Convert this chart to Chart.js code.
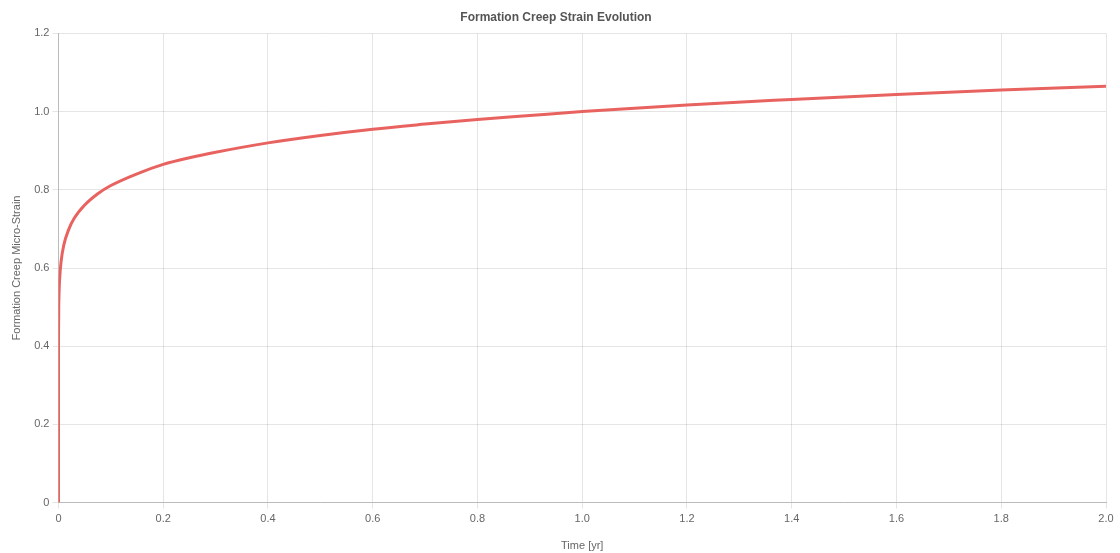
<!DOCTYPE html>
<html>
<head>
<meta charset="utf-8">
<title>Formation Creep Strain Evolution</title>
<script src="https://cdn.jsdelivr.net/npm/chart.js@4.4.1/dist/chart.umd.min.js"></script>
<style>
  html, body { margin: 0; padding: 0; background: #fff; }
  #wrap { width: 1120px; height: 553px; position: relative; }
</style>
</head>
<body>
<div id="wrap"><canvas id="creepChart"></canvas></div>
<script>
// creep strain vs time
const timeYr = [0, 0.00001, 0.0001, 0.0005, 0.001, 0.002, 0.005, 0.01, 0.02, 0.03, 0.05, 0.075,
  0.1, 0.15, 0.2, 0.25, 0.3, 0.4, 0.5, 0.6, 0.7, 0.8, 0.9, 1.0, 1.2, 1.4, 1.6, 1.8, 2.0];
const microStrain = [0, 0.35, 0.433, 0.50, 0.533, 0.568, 0.617, 0.658, 0.70, 0.727, 0.761, 0.79,
  0.811, 0.841, 0.865, 0.882, 0.896, 0.92, 0.939, 0.955, 0.968, 0.98, 0.99, 1.0, 1.017, 1.031, 1.044, 1.055, 1.065];

const xTickLabels = ["0", "0.2", "0.4", "0.6", "0.8", "1.0", "1.2", "1.4", "1.6", "1.8", "2.0"];
const yTickLabels = ["0", "0.2", "0.4", "0.6", "0.8", "1.0", "1.2"];

Chart.defaults.font.family = "'Liberation Sans', Arial, sans-serif";
Chart.defaults.color = "#666";

const ctx = document.getElementById("creepChart");
const points = timeYr.map((t, i) => ({ x: t, y: microStrain[i] }));

new Chart(ctx, {
  type: "line",
  data: {
    datasets: [{
      label: "Creep Strain",
      data: points,
      borderColor: "#e8635f",
      borderWidth: 3,
      pointRadius: 0,
      fill: false,
      cubicInterpolationMode: "monotone"
    }]
  },
  options: {
    responsive: true,
    maintainAspectRatio: false,
    animation: false,
    layout: { padding: { top: 0, right: 14, bottom: 0, left: 6 } },
    plugins: {
      legend: { display: false },
      tooltip: { enabled: false },
      title: {
        display: true,
        text: "Formation Creep Strain Evolution",
        color: "#555",
        font: { size: 12, weight: "bold" },
        padding: { top: 10, bottom: 9 }
      }
    },
    scales: {
      x: {
        type: "linear",
        min: 0,
        max: 2,
        grid: { color: "rgba(0,0,0,0.1)", drawTicks: true, tickLength: 6 },
        border: { color: "#bbb" },
        ticks: {
          stepSize: 0.2,
          padding: 4,
          font: { size: 11 },
          maxRotation: 0,
          callback: (v) => xTickLabels[Math.round(v / 0.2)]
        },
        title: { display: true, text: "Time [yr]", font: { size: 11 }, padding: { top: 10, bottom: 0 } }
      },
      y: {
        min: 0,
        max: 1.2,
        grid: { color: "rgba(0,0,0,0.1)", tickLength: 6 },
        border: { color: "#bbb" },
        ticks: {
          stepSize: 0.2,
          font: { size: 11 },
          callback: (v) => yTickLabels[Math.round(v / 0.2)]
        },
        title: { display: true, text: "Formation Creep Micro-Strain", font: { size: 11 }, padding: { bottom: 8 } }
      }
    }
  }
});
</script>
</body>
</html>
